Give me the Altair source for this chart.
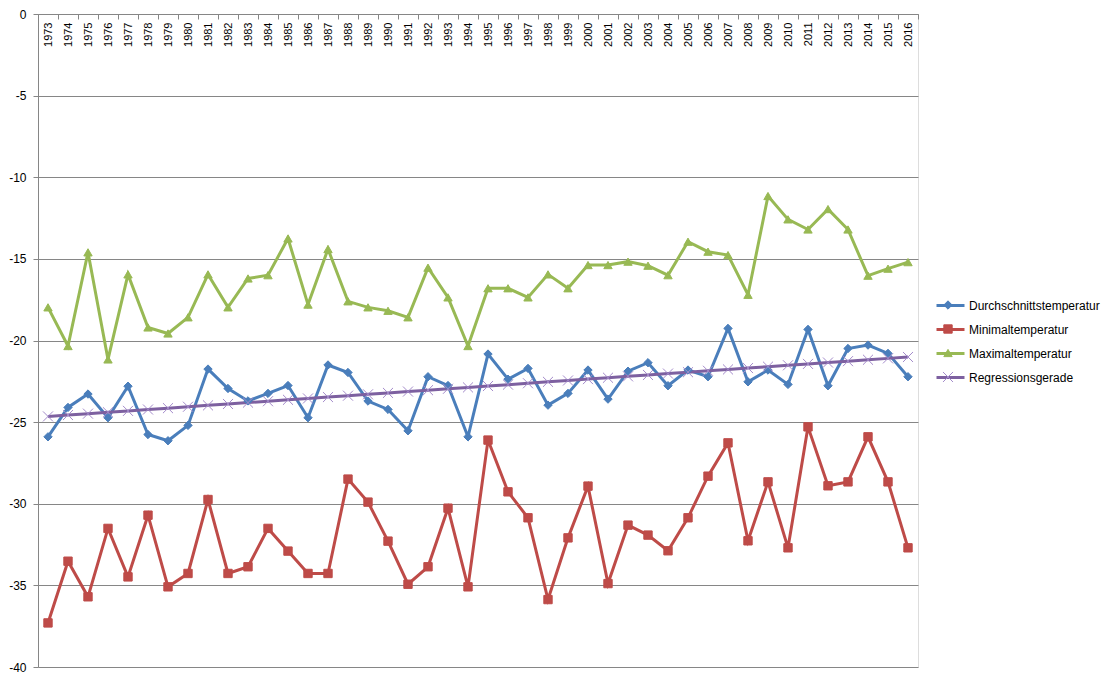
import altair as alt
import pandas as pd

years = list(range(1973, 2017))

avg_temp = [-25.9, -24.1, -23.28, -24.73, -22.8, -25.76, -26.14, -25.2, -21.75, -22.94,
            -23.7, -23.24, -22.76, -24.73, -21.5, -21.96, -23.71, -24.22, -25.53, -22.22,
            -22.76, -25.9, -20.83, -22.37, -21.71, -23.96, -23.24, -21.81, -23.59, -21.88,
            -21.36, -22.77, -21.81, -22.22, -19.26, -22.53, -21.81, -22.69, -19.32, -22.77,
            -20.49, -20.28, -20.79, -22.22]

min_temp = [-37.3, -33.52, -35.7, -31.51, -34.48, -30.7, -35.09, -34.27, -29.74, -34.27,
            -33.86, -31.51, -32.9, -34.27, -34.27, -28.49, -29.9, -32.29, -34.93, -33.86,
            -30.27, -35.09, -26.1, -29.27, -30.86, -35.87, -32.09, -28.92, -34.89, -31.31,
            -31.92, -32.88, -30.86, -28.31, -26.27, -32.27, -28.66, -32.7, -25.29, -28.9,
            -28.66, -25.9, -28.66, -32.7]

max_temp = [-17.97, -20.34, -14.6, -21.16, -15.95, -19.2, -19.57, -18.58, -15.95, -17.97,
            -16.2, -16.0, -13.75, -17.8, -14.4, -17.6, -17.97, -18.18, -18.58, -15.54,
            -17.36, -20.34, -16.8, -16.8, -17.36, -15.95, -16.8, -15.38, -15.38, -15.17,
            -15.42, -16.0, -13.95, -14.56, -14.77, -17.2, -11.15, -12.58, -13.2, -11.95,
            -13.2, -16.03, -15.6, -15.2]

series_names = ["Durchschnittstemperatur", "Minimaltemperatur", "Maximaltemperatur", "Regressionsgerade"]
line_colors = ["#4A7EBB", "#BE4B48", "#98B954", "#7D60A0"]
marker_colors = ["#4A7EBB", "#BE4B48", "#98B954", "#A48BCB"]
marker_shapes = ["diamond", "square", "triangle-up", "M-1.2,-1.2L1.2,1.2M-1.2,1.2L1.2,-1.2"]
y_ticks = [0, -5, -10, -15, -20, -25, -30, -35, -40]

df = pd.DataFrame({
    "year": years,
    "Durchschnittstemperatur": avg_temp,
    "Minimaltemperatur": min_temp,
    "Maximaltemperatur": max_temp,
})

FONT = "Liberation Sans"
GRID = "#868686"

base = (
    alt.Chart(df)
    .transform_calculate(
        xy="datum.year * datum.Durchschnittstemperatur",
        xx="datum.year * datum.year",
    )
    .transform_joinaggregate(
        mx="mean(year)", my="mean(Durchschnittstemperatur)", mxy="mean(xy)", mxx="mean(xx)"
    )
    .transform_calculate(
        Regressionsgerade="datum.my + (datum.mxy - datum.mx*datum.my)/(datum.mxx - datum.mx*datum.mx)*(datum.year - datum.mx)"
    )
    .transform_fold(series_names, as_=["series", "value"])
)

x_enc = alt.X(
    "year:O",
    scale=alt.Scale(type="band", paddingInner=0, paddingOuter=0),
    axis=alt.Axis(
        orient="bottom", offset=-653, tickBand="extent", tickSize=5,
        tickColor=GRID, domainColor=GRID, labelAngle=-90, labelFont=FONT,
        labelFontSize=11, labelColor="#000000", labelPadding=3, grid=False,
        labelOverlap=False, title=None,
    ),
)
y_enc = alt.Y(
    "value:Q",
    scale=alt.Scale(domain=[-40, 0], nice=False, zero=False),
    axis=alt.Axis(
        values=y_ticks, grid=True, gridColor=GRID, gridWidth=1, domainColor=GRID,
        tickColor=GRID, tickSize=5, labelFont=FONT, labelFontSize=12,
        labelColor="#000000", labelPadding=7, labelExpr="'' + datum.value", title=None,
    ),
)

# marker legend uses the same names with a trailing space so it stays a separate legend
marker_names = [n + " " for n in series_names]

leg_lines = alt.Legend(
    orient="none", legendX=897, legendY=276, title=None, symbolType="stroke",
    symbolSize=784, symbolStrokeWidth=3, labelFont=FONT, labelFontSize=12,
    labelColor="#000000", labelOffset=3, rowPadding=2, padding=0, labelLimit=300,
)
leg_points = alt.Legend(
    orient="none", legendX=905, legendY=286, title=None, symbolSize=70,
    symbolStrokeWidth=1, labelExpr="''", labelFontSize=1, gridAlign="all",
    rowPadding=8, padding=0,
)

lines = base.mark_line(strokeWidth=3).encode(
    x=x_enc, y=y_enc,
    color=alt.Color("series:N", scale=alt.Scale(domain=series_names, range=line_colors), legend=leg_lines),
)

points = base.transform_calculate(mseries="datum.series + ' '").mark_point(
    filled=False, size=70, strokeWidth=1, opacity=1
).encode(
    x=x_enc, y=y_enc,
    color=alt.Color("mseries:N", scale=alt.Scale(domain=marker_names, range=marker_colors), legend=leg_points),
    fill=alt.Fill("mseries:N", scale=alt.Scale(domain=marker_names, range=marker_colors), legend=leg_points),
    shape=alt.Shape("mseries:N", scale=alt.Scale(domain=marker_names, range=marker_shapes), legend=leg_points),
)

chart = (
    alt.layer(lines, points)
    .resolve_scale(color="independent", fill="independent", shape="independent")
    .resolve_legend(color="independent", fill="independent", shape="independent")
    .properties(
        width=880, height=653,
        autosize=alt.AutoSizeParams(type="none"),
        padding={"left": 30, "top": 6, "right": 193, "bottom": 8},
    )
    .configure_view(stroke=None)
    .configure(background="white")
)

chart.save("out.html", embed_options={"renderer": "svg", "actions": False})
